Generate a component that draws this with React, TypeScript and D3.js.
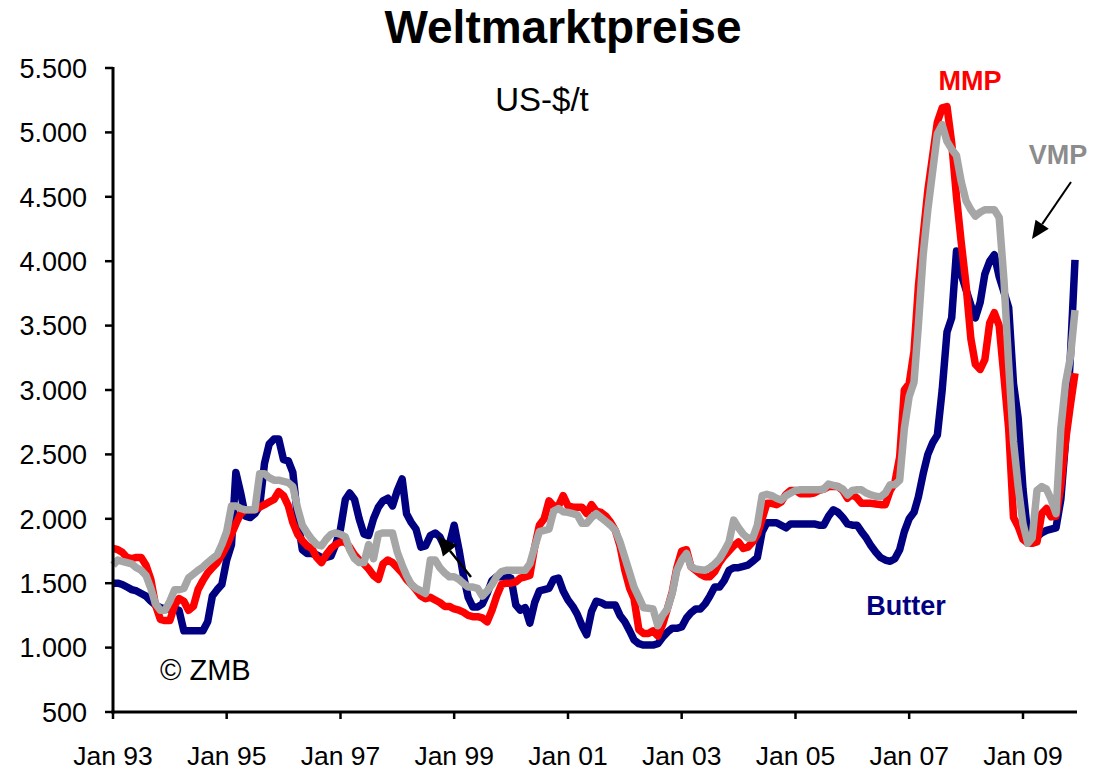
import React from 'react';
import * as d3 from 'd3';

const W = 1093;
const H = 771;

// monthly prices, Jan 93 .. Dec 09 (US-$/t)
const butter = [
  1500, 1500, 1490, 1470, 1450, 1440, 1420, 1400, 1360, 1330, 1310, 1300,
  1300, 1300, 1290, 1130, 1130, 1130, 1130, 1130, 1200, 1400, 1450, 1490,
  1680, 1800, 2360, 2200, 2020, 2010, 2040, 2100, 2430, 2580, 2620, 2620,
  2460, 2450, 2360, 2000, 1760, 1730, 1730, 1720, 1700, 1700, 1710, 1800,
  1920, 2150, 2200, 2150, 2000, 1880, 1870, 2000, 2090, 2140, 2160, 2100,
  2220, 2310, 2040, 1970, 1920, 1780, 1790, 1870, 1890, 1860, 1780, 1800,
  1950, 1760, 1560, 1390, 1315, 1315, 1340, 1420, 1520, 1550, 1550, 1550,
  1540, 1330, 1290, 1310, 1190, 1350, 1440, 1450, 1460, 1530, 1540, 1440,
  1370, 1320, 1260, 1170, 1100, 1280, 1360, 1350, 1330, 1330, 1330, 1250,
  1200, 1130, 1060, 1030, 1020, 1020, 1020, 1030, 1080, 1120, 1150, 1150,
  1160, 1230, 1270, 1300, 1300, 1340, 1400, 1470, 1470, 1520, 1600, 1620,
  1620, 1630, 1640, 1670, 1700, 1900, 1970, 1970, 1970, 1950, 1930, 1960,
  1960, 1960, 1960, 1960, 1960, 1950, 1950, 2020, 2070, 2050, 2010, 1960,
  1950, 1950, 1900, 1850, 1790, 1740, 1700, 1680, 1670, 1690, 1760, 1900,
  2000, 2050, 2170, 2350, 2500, 2590, 2650, 3000, 3450, 3560, 4080, 3900,
  3780, 3660, 3560, 3680, 3900, 4000, 4050, 3880, 3760, 3640, 3050, 2780,
  2230, 1870, 1820, 1860, 1890, 1910, 1920, 1930, 2150, 2600, 3250, 4010,
];

const mmp = [
  1770, 1760, 1740, 1700, 1690, 1700, 1700, 1640, 1530, 1330, 1220, 1210,
  1210, 1330, 1380, 1360, 1290, 1320, 1450, 1520, 1580, 1620, 1660, 1720,
  1790, 1880, 1960, 2040, 2070, 2070, 2070, 2090, 2110, 2130, 2150, 2210,
  2180, 2100, 1970, 1880, 1830, 1790, 1770, 1700, 1660, 1720, 1770, 1800,
  1820, 1820, 1780, 1720, 1680, 1650, 1610, 1560, 1530, 1650, 1680, 1660,
  1620, 1580, 1530, 1490, 1450, 1400, 1380, 1390, 1370, 1350, 1320, 1320,
  1300, 1290, 1275, 1250, 1240, 1240, 1230, 1200, 1290, 1400, 1490, 1500,
  1500, 1510, 1540, 1550, 1560, 1780, 1950, 2000, 2140, 2100, 2100, 2180,
  2100, 2090, 2090, 2090, 2040, 2110, 2060, 2050, 2020, 1975, 1910, 1790,
  1600, 1460, 1380, 1140, 1110, 1110, 1130, 1090, 1180, 1300, 1430, 1620,
  1750, 1760, 1630, 1600, 1570, 1550, 1550, 1590, 1660, 1710, 1750, 1790,
  1820, 1770, 1780, 1820, 1880, 2000, 2120, 2120, 2110, 2130, 2190, 2220,
  2220, 2195, 2195, 2195, 2200, 2220, 2230, 2250, 2250, 2250, 2220, 2160,
  2190, 2160, 2120, 2120, 2120, 2115, 2110, 2110, 2220, 2280, 2480, 3000,
  3050, 3300, 3800, 4200, 4550, 4820, 5080, 5190, 5200, 4920, 4500, 4150,
  3820, 3400, 3200, 3160, 3235, 3520, 3600, 3500, 3100, 2700, 2010, 1940,
  1840, 1810, 1810, 1820, 2040, 2080, 2015, 2020, 2250, 2600, 2880, 3130,
];

const vmp = [
  1640, 1680, 1670, 1660, 1650, 1620, 1600, 1560, 1460, 1340, 1290, 1290,
  1360, 1450, 1450, 1460, 1540, 1570, 1600, 1625, 1660, 1690, 1720, 1800,
  1900, 2100, 2100, 2080, 2070, 2070, 2070, 2350, 2350, 2320, 2300, 2300,
  2290, 2280, 2250, 2080, 1950, 1890, 1840, 1800, 1790, 1840, 1880, 1890,
  1880, 1860, 1760, 1690, 1660, 1660, 1800, 1690, 1880, 1890, 1890, 1890,
  1740, 1640, 1560, 1490, 1460, 1440, 1420, 1680, 1680, 1620, 1580, 1550,
  1550, 1530, 1500, 1470, 1470, 1460, 1400, 1440, 1490, 1550, 1590, 1600,
  1600, 1600, 1600, 1600, 1650, 1780, 1900, 1910, 1920, 2060, 2080, 2055,
  2050, 2040, 2030, 1965, 1965, 2010, 2040, 2010, 1980, 1950, 1910, 1820,
  1700, 1580, 1470, 1390, 1310, 1305, 1300, 1170, 1250, 1300, 1420, 1600,
  1680, 1730, 1630, 1610, 1605, 1600, 1620, 1650, 1690, 1750, 1820, 1990,
  1930, 1880, 1850, 1850, 1950, 2180, 2190, 2180, 2160, 2145, 2180, 2200,
  2220, 2225, 2225, 2225, 2225, 2225, 2230, 2270, 2260, 2250, 2230, 2185,
  2220, 2225, 2225, 2200, 2185, 2175, 2170, 2200, 2265, 2265, 2300, 2700,
  2950, 3060, 3500, 4050, 4400, 4700, 4990, 5060, 4930, 4870, 4820, 4620,
  4470, 4400, 4350, 4380, 4400, 4400, 4400, 4340, 3850, 3200, 2600, 2250,
  1960, 1810, 1850, 2220, 2250, 2230, 2150, 2040, 2700, 3050, 3250, 3620,
];

const yTicks = [500, 1000, 1500, 2000, 2500, 3000, 3500, 4000, 4500, 5000, 5500];
const tickYears = [1993, 1995, 1997, 1999, 2001, 2003, 2005, 2007, 2009];

const months = d3.timeMonth.range(new Date(1993, 0, 1), new Date(2010, 0, 1));

const FONT = '"Liberation Sans", Arial, Helvetica, sans-serif';

const deFormat = d3.formatLocale({ decimal: ',', thousands: '.', grouping: [3], currency: ['', ' $'] }).format(',');
const monFormat = d3.timeFormat('%b %y');

// arrow: shaft from (x1,y1) to the tip (x2,y2) with a filled head
function Arrow({ x1, y1, x2, y2, len = 18, half = 8, sw = 2 }: { x1: number; y1: number; x2: number; y2: number; len?: number; half?: number; sw?: number }) {
  const dx = x2 - x1;
  const dy = y2 - y1;
  const L = Math.hypot(dx, dy);
  const ux = dx / L;
  const uy = dy / L;
  const bx = x2 - ux * len;
  const by = y2 - uy * len;
  const pts = [
    [x2, y2],
    [bx - uy * half, by + ux * half],
    [bx + uy * half, by - ux * half],
  ];
  return (
    <g>
      <line x1={x1} y1={y1} x2={bx} y2={by} stroke="#000" strokeWidth={sw} />
      <polygon points={pts.map(p => p.join(',')).join(' ')} fill="#000" />
    </g>
  );
}

export default function App() {
  const x = d3.scaleTime()
    .domain([new Date(1993, 0, 1), new Date(2009, 11, 1)])
    .range([113, 1075]);
  const y = d3.scaleLinear().domain([500, 5500]).range([712, 68]);

  const line = d3.line<number>()
    .x((_, i) => x(months[i]))
    .y(d => y(d));

  const series = [
    { name: 'Butter', values: butter, color: '#000080' },
    { name: 'MMP', values: mmp, color: '#ff0000' },
    { name: 'VMP', values: vmp, color: '#a6a6a6' },
  ];

  return (
    <svg width={W} height={H} style={{ position: 'absolute', left: 0, top: 0, background: '#fff' }} fontFamily={FONT}>
      <text x={563} y={43} textAnchor="middle" fontSize={46} fontWeight="bold">Weltmarktpreise</text>

      {series.map(s => (
        <path key={s.name} d={line(s.values) || ''} fill="none" stroke={s.color}
          strokeWidth={7.5} strokeLinejoin="round" />
      ))}

      {/* axes */}
      <line x1={113} x2={113} y1={67} y2={713.5} stroke="#000" strokeWidth={3} />
      <line x1={111.5} x2={1077} y1={712} y2={712} stroke="#000" strokeWidth={3} />
      {yTicks.map(t => (
        <g key={t}>
          <line x1={105} x2={113} y1={y(t)} y2={y(t)} stroke="#000" strokeWidth={2.5} />
          <text x={87} y={y(t)} dy="0.36em" textAnchor="end" fontSize={27}>{deFormat(t)}</text>
        </g>
      ))}
      {tickYears.map(yr => {
        const d = new Date(yr, 0, 1);
        return (
          <g key={yr}>
            <line x1={x(d)} x2={x(d)} y1={712} y2={719} stroke="#000" strokeWidth={2.5} />
            <text x={x(d)} y={765} textAnchor="middle" fontSize={26.5}>{monFormat(d)}</text>
          </g>
        );
      })}

      <text x={542} y={111} textAnchor="middle" fontSize={33}>US-$/t</text>
      <text x={970} y={90} textAnchor="middle" fontSize={27} fontWeight="bold" fill="#ff0000">MMP</text>
      <text x={1058} y={164} textAnchor="middle" fontSize={27} fontWeight="bold" fill="#8c8c8c">VMP</text>
      <text x={906} y={615} textAnchor="middle" fontSize={27} fontWeight="bold" fill="#000080">Butter</text>
      <text x={160} y={680} fontSize={29}>© ZMB</text>

      <Arrow x1={1071} y1={182} x2={1032} y2={239} len={18} half={8} sw={2} />
      <Arrow x1={471} y1={577} x2={438} y2={536} len={19} half={9} sw={2.5} />
    </svg>
  );
}
